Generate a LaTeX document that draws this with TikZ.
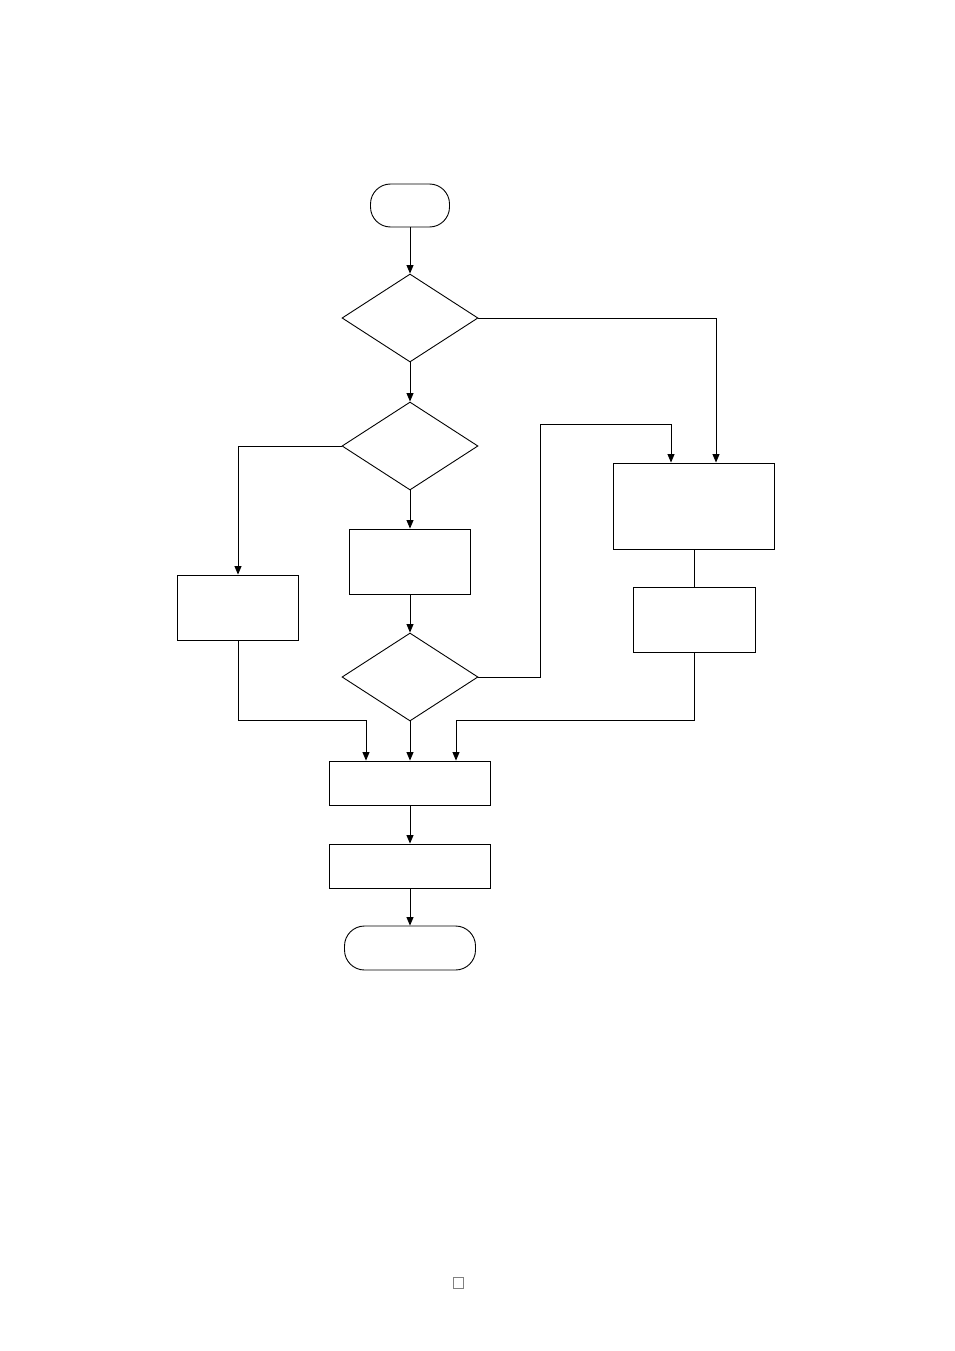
\documentclass[tikz,border=0pt]{standalone}
\usetikzlibrary{shapes.geometric,arrows.meta}
\begin{document}
\begin{tikzpicture}[x=1pt,y=-1pt,
  every path/.style={line width=0.9pt},
  box/.style={draw,rectangle,inner sep=0pt},
  term/.style={draw,rectangle,rounded corners=20pt,inner sep=0pt},
  dec/.style={draw,diamond,inner sep=0pt,minimum width=136pt,minimum height=88pt},
  arr/.style={-{Triangle[length=8.5pt,width=7pt]}}]
\useasboundingbox (0,0) rectangle (954,1351);
\node[term,minimum width=79pt,minimum height=43pt] (start) at (410,205.5) {};
\node[dec] (d1) at (410,318) {};
\node[dec] (d2) at (410,446) {};
\node[box,minimum width=121pt,minimum height=65pt] (mb) at (410,561.5) {};
\node[box,minimum width=121pt,minimum height=65pt] (lb) at (238,607.5) {};
\node[dec] (d3) at (410,677) {};
\node[box,minimum width=161pt,minimum height=86pt] (rb) at (694,506) {};
\node[box,minimum width=122pt,minimum height=65pt] (rs) at (694,619.5) {};
\node[box,minimum width=161pt,minimum height=44pt] (pa) at (410,783) {};
\node[box,minimum width=161pt,minimum height=44pt] (pb) at (410,866) {};
\node[term,minimum width=131pt,minimum height=44pt] (end) at (410,948) {};
\node[draw=gray,line width=0.6pt,inner sep=0pt,minimum width=10pt,minimum height=11pt] (pg) at (458,1283) {};
\coordinate (c1) at (540,424);
\coordinate (j1) at (238,720);
\coordinate (j2) at (694,720);
\draw[arr] (start) -- (d1);
\draw[arr] (d1.east) -| ([xshift=22pt]rb.north);
\draw[arr] (d1) -- (d2);
\draw[arr] (d2.west) -| (lb.north);
\draw[arr] (d2) -- (mb);
\draw[arr] (mb) -- (d3);
\draw[arr] (d3.east) -| (c1) -| ([xshift=-23pt]rb.north);
\draw (rb.south) -- (rs.north);
\draw[arr] (rs.south) -- (j2) -| ([xshift=46pt]pa.north);
\draw[arr] (lb.south) -- (j1) -| ([xshift=-44pt]pa.north);
\draw[arr] (d3) -- (pa);
\draw[arr] (pa) -- (pb);
\draw[arr] (pb) -- (end);
\end{tikzpicture}
\end{document}
